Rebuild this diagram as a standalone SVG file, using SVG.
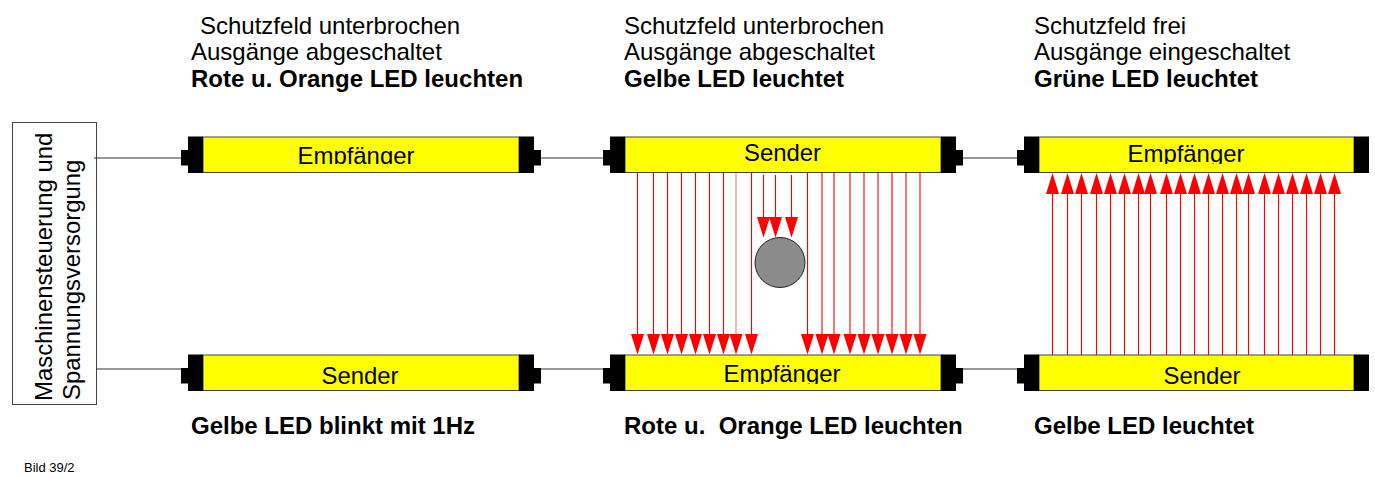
<svg xmlns="http://www.w3.org/2000/svg" xmlns:xlink="http://www.w3.org/1999/xlink" width="1375" height="479" viewBox="0 0 1375 479">
<style>
text{font-family:"Liberation Sans",Arial,sans-serif;fill:#000}
.h{font-size:24px}
.b{font-size:24px;font-weight:bold}
.l{font-size:23.9px;text-anchor:middle}
.v{font-size:23.9px}
.y{fill:#ff0;stroke:#444;stroke-width:1}
.k{fill:#000}
.w{stroke:#333;stroke-width:1.1;fill:none}
.r{stroke:#f00;stroke-width:1.1;fill:none}
.a{fill:#f00}
</style>
<defs>
<g id="bar"><rect class="y" x="15" y=".5" width="316" height="35.5"/><rect class="k" width="15" height="36.5"/><rect class="k" x="-7" y="13.5" width="7" height="15.5"/><rect class="k" x="331" width="15" height="36.5"/><rect class="k" x="346" y="13.5" width="7" height="15.5"/></g>
<g id="bar3"><rect class="y" x="15" y=".5" width="315" height="35.5"/><rect class="k" width="15" height="36.5"/><rect class="k" x="-7" y="13.5" width="7" height="15.5"/><rect class="k" x="330" width="15" height="36.5"/></g>
<path id="d" class="a" d="M-6.5 0H6.5L0 20.500Z"/>
<path id="u" class="a" d="M-6.500 0H6.500L0 -21Z"/>
<clipPath id="c1"><rect x="200" y="136" width="320" height="28"/></clipPath>
<clipPath id="c2"><rect x="625" y="355" width="316" height="29"/></clipPath>
<clipPath id="c3"><rect x="1039" y="136" width="315" height="28"/></clipPath>
</defs>
<g id="texts">
<text class="h" x="200" y="34">Schutzfeld unterbrochen</text>
<text class="h" x="191" y="60">Ausgänge abgeschaltet</text>
<text class="b" x="191" y="87">Rote u. Orange LED leuchten</text>
<text class="h" x="624" y="34">Schutzfeld unterbrochen</text>
<text class="h" x="624" y="60">Ausgänge abgeschaltet</text>
<text class="b" x="624" y="87">Gelbe LED leuchtet</text>
<text class="h" x="1034" y="34">Schutzfeld frei</text>
<text class="h" x="1034" y="60">Ausgänge eingeschaltet</text>
<text class="b" x="1034" y="87">Grüne LED leuchtet</text>
<text class="b" x="191" y="434">Gelbe LED blinkt mit 1Hz</text>
<text class="b" x="624" y="434" xml:space="preserve">Rote u.  Orange LED leuchten</text>
<text class="b" x="1034" y="434">Gelbe LED leuchtet</text>
<text x="24" y="472" font-size="13">Bild 39/2</text>
</g>
<g id="steuerung"><rect x="12.500" y="122.500" width="84" height="282" fill="#fff" stroke="#444"/>
<text class="v" transform="translate(52 401) rotate(-90)">Maschinensteuerung und</text>
<text class="v" transform="translate(80 400) rotate(-90)">Spannungsversorgung</text></g>
<g id="connectors">
<path class="w" d="M94 158H181M96 369H181M541 158H603M541 369H603M963 158H1017M963 369H1017"/>
<path class="r" d="M637.500 172V334M653.500 172V334M667.500 172V334M681.500 172V334M695.500 172V334M709.500 172V334M723.500 172V334M751.500 172V334M807.500 172V334M822 172V334M834 172V334M850 172V334M864 172V334M878 172V334M892 172V334M906 172V334M920 172V334M763.500 175V217M775.500 175V217M791.500 175V217"/>
<path class="r" stroke-opacity=".55" d="M736 172V334"/>
<path class="r" d="M1052.500 194V355M1067.500 194V355M1081.500 194V355M1096.500 194V355M1110.500 194V355M1124.500 194V355M1138.500 194V355M1150.500 194V355M1166.500 194V355M1180.500 194V355M1194.500 194V355M1208.500 194V355M1222.500 194V355M1236.500 194V355M1248.500 194V355M1264.500 194V355M1278.500 194V355M1292.500 194V355M1306.500 194V355M1320.500 194V355M1334.500 194V355"/>
<g id="heads">
<use href="#d" x="637.500" y="334"/><use href="#d" x="653.500" y="334"/><use href="#d" x="667.500" y="334"/><use href="#d" x="681.500" y="334"/><use href="#d" x="695.500" y="334"/><use href="#d" x="709.500" y="334"/><use href="#d" x="723.500" y="334"/><use href="#d" x="736" y="334"/><use href="#d" x="751.500" y="334"/>
<use href="#d" x="807.500" y="334"/><use href="#d" x="822" y="334"/><use href="#d" x="834" y="334"/><use href="#d" x="850" y="334"/><use href="#d" x="864" y="334"/><use href="#d" x="878" y="334"/><use href="#d" x="892" y="334"/><use href="#d" x="906" y="334"/><use href="#d" x="920" y="334"/>
<use href="#d" x="763.500" y="217"/><use href="#d" x="775.500" y="217"/><use href="#d" x="791.500" y="217"/>
<use href="#u" x="1052.500" y="194"/><use href="#u" x="1067.500" y="194"/><use href="#u" x="1081.500" y="194"/><use href="#u" x="1096.500" y="194"/><use href="#u" x="1110.500" y="194"/><use href="#u" x="1124.500" y="194"/><use href="#u" x="1138.500" y="194"/><use href="#u" x="1150.500" y="194"/><use href="#u" x="1166.500" y="194"/><use href="#u" x="1180.500" y="194"/><use href="#u" x="1194.500" y="194"/><use href="#u" x="1208.500" y="194"/><use href="#u" x="1222.500" y="194"/><use href="#u" x="1236.500" y="194"/><use href="#u" x="1248.500" y="194"/><use href="#u" x="1264.500" y="194"/><use href="#u" x="1278.500" y="194"/><use href="#u" x="1292.500" y="194"/><use href="#u" x="1306.500" y="194"/><use href="#u" x="1320.500" y="194"/><use href="#u" x="1334.500" y="194"/>
</g>
</g>
<g id="empfaenger1"><use href="#bar" x="188" y="136.500"/><text class="l" x="356" y="164" clip-path="url(#c1)">Empfänger</text></g>
<g id="sender1"><use href="#bar" x="188" y="354.500"/><text class="l" x="360" y="384">Sender</text></g>
<g id="sender2"><use href="#bar" x="610" y="136.500"/><text class="l" x="782.500" y="161">Sender</text></g>
<g id="empfaenger2"><use href="#bar" x="610" y="354.500"/><text class="l" x="782" y="382" clip-path="url(#c2)">Empfänger</text></g>
<g id="empfaenger3"><use href="#bar3" x="1024" y="136.500"/><text class="l" x="1186" y="162" clip-path="url(#c3)">Empfänger</text></g>
<g id="sender3"><use href="#bar3" x="1024" y="354.500"/><text class="l" x="1202" y="384">Sender</text></g>
<g id="objekt"><circle cx="780" cy="262.500" r="25" fill="#8c8c8c" stroke="#222" stroke-width="1"/></g>
</svg>
